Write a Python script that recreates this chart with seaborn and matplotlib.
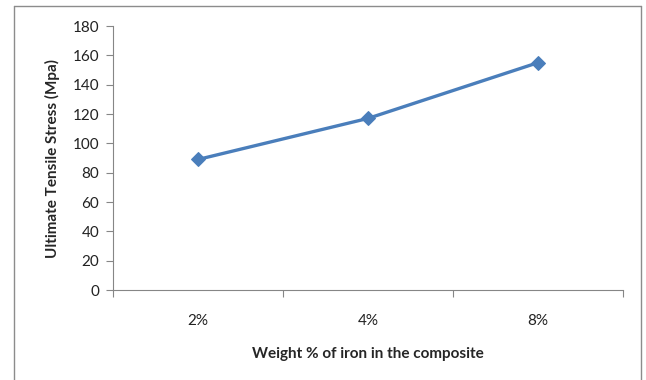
import matplotlib
matplotlib.use("Agg")
import matplotlib.pyplot as plt
from matplotlib.lines import Line2D
import pandas as pd
import seaborn as sns

weight_pct = ["2%", "4%", "8%"]
uts_mpa = [89, 117, 155]

sns.set_theme(style="white")
plt.rcParams["font.family"] = ["Lato", "DejaVu Sans"]

df = pd.DataFrame({"weight": weight_pct, "uts": uts_mpa})

fig = plt.figure(figsize=(6.46, 3.80), dpi=100)
ax = fig.add_axes([113 / 646, 1 - 290 / 380, 510 / 646, 264 / 380])

sns.lineplot(data=df, x="weight", y="uts", sort=False, ax=ax,
             color="#4A7EBB", linewidth=2.4, marker="D", markersize=7,
             markeredgecolor="#4A7EBB")

ax.set_ylim(0, 180)
ax.set_yticks(range(0, 181, 20))
ax.set_xlim(-0.5, 2.5)
ax.set_xticks(range(len(weight_pct)))
ax.set_xticklabels(weight_pct)
ax.set_xticks([-0.5, 0.5, 1.5, 2.5], minor=True)

gray = "#868686"
for side in ["top", "right"]:
    ax.spines[side].set_visible(False)
for side in ["left", "bottom"]:
    ax.spines[side].set_color(gray)
    ax.spines[side].set_linewidth(0.8)

ax.tick_params(axis="y", which="major", direction="out", length=5, width=0.8,
               color=gray, labelsize=11, labelcolor="#222222", pad=5, left=True)
ax.tick_params(axis="x", which="major", length=0, labelsize=11,
               labelcolor="#222222", pad=17)
ax.tick_params(axis="x", which="minor", direction="out", length=5, width=0.8,
               color=gray, bottom=True)

ax.set_xlabel("Weight % of iron in the composite", fontsize=11,
              fontweight="bold", labelpad=14)
ax.set_ylabel("Ultimate Tensile Stress (Mpa)", fontsize=11,
              fontweight="bold", labelpad=9)

# chart-area border (bottom edge cut off as in the reference)
x0, x1 = 14 / 646, 641 / 646
y1 = 1 - 6 / 380
for xs, ys in [([x0, x0], [0, y1]), ([x0, x1], [y1, y1]), ([x1, x1], [y1, 0])]:
    fig.add_artist(Line2D(xs, ys, transform=fig.transFigure,
                          color="#8C8C8C", linewidth=1.0))

fig.savefig("out.png", dpi=100, facecolor="white")
